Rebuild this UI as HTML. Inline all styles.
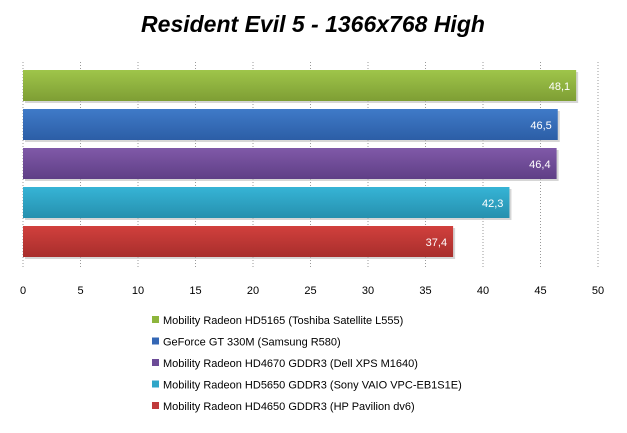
<!DOCTYPE html>
<html><head><meta charset="utf-8"><style>
body{margin:0;background:#fff;}
svg{display:block;font-family:"Liberation Sans",sans-serif;}
</style></head><body>
<svg id="c" width="627" height="433">
<defs>
<linearGradient id="gg" x1="0" y1="0" x2="0" y2="1"><stop offset="0" stop-color="#9fc54a"/><stop offset="1" stop-color="#7e9e34"/></linearGradient>
<linearGradient id="gb" x1="0" y1="0" x2="0" y2="1"><stop offset="0" stop-color="#3f7ac8"/><stop offset="1" stop-color="#2c5ea6"/></linearGradient>
<linearGradient id="gp" x1="0" y1="0" x2="0" y2="1"><stop offset="0" stop-color="#8059a8"/><stop offset="1" stop-color="#5f3f86"/></linearGradient>
<linearGradient id="gc" x1="0" y1="0" x2="0" y2="1"><stop offset="0" stop-color="#36b4d6"/><stop offset="1" stop-color="#2690ae"/></linearGradient>
<linearGradient id="gr" x1="0" y1="0" x2="0" y2="1"><stop offset="0" stop-color="#d1403d"/><stop offset="1" stop-color="#a82e2c"/></linearGradient>
</defs>
<text x="313" y="32" text-anchor="middle" font-size="23" font-weight="bold" font-style="italic" fill="#000">Resident Evil 5 - 1366x768 High</text>
<g id="grid"></g><g id="bars"></g><g id="ticks"></g><g id="legend"></g>
</svg>
<script>
const categories=["Mobility Radeon HD5165 (Toshiba Satellite L555)","GeForce GT 330M (Samsung R580)","Mobility Radeon HD4670 GDDR3 (Dell XPS M1640)","Mobility Radeon HD5650 GDDR3 (Sony VAIO VPC-EB1S1E)","Mobility Radeon HD4650 GDDR3 (HP Pavilion dv6)"];
const values=[48.1,46.5,46.4,42.3,37.4];
const tickLabels=[0,5,10,15,20,25,30,35,40,45,50];
const fills=["url(#gg)","url(#gb)","url(#gp)","url(#gc)","url(#gr)"];
const swatch=["#8db53c","#3467b5","#6c4b97","#2fa6c8","#c0393a"];
const NS="http://www.w3.org/2000/svg";
const x=v=>23+v*11.5;
const barY=i=>70+i*39;
function mk(t,a,p){const e=document.createElementNS(NS,t);for(const k in a)e.setAttribute(k,a[k]);p.appendChild(e);return e;}
const grid=document.getElementById('grid'),bars=document.getElementById('bars'),ticks=document.getElementById('ticks'),leg=document.getElementById('legend');
tickLabels.forEach(t=>{
 const l=mk('line',{x1:x(t),x2:x(t),y1:62,y2:268,stroke:'#999','stroke-dasharray':'1,2'},grid);
 
 
 const tx=mk('text',{x:x(t),y:294,'text-anchor':'middle','font-size':11,fill:'#000'},ticks);
 tx.textContent=t;
 
 
});
values.forEach((v,i)=>{
 const s=mk('rect',{x:x(0)+2,y:barY(i)+2,width:x(v)-x(0),height:31,fill:'#bbb',opacity:0.6},bars);
 
 
 const r=mk('rect',{x:x(0),y:barY(i),width:x(v)-x(0),height:31,fill:fills[i]},bars);
 
 
 const t=mk('text',{x:x(v)-6,y:barY(i)+20,'text-anchor':'end','font-size':11,fill:'#fff'},bars);
 t.textContent=String(v).replace('.',',');
 
 
 const sq=mk('rect',{x:152,y:316+i*21.5,width:7,height:7,fill:swatch[i]},leg);
 
 
 const lt=mk('text',{x:163,y:324+i*21.5,'font-size':11,fill:'#000'},leg);
 lt.textContent=categories[i];
 
 
});
</script>
</body></html>
